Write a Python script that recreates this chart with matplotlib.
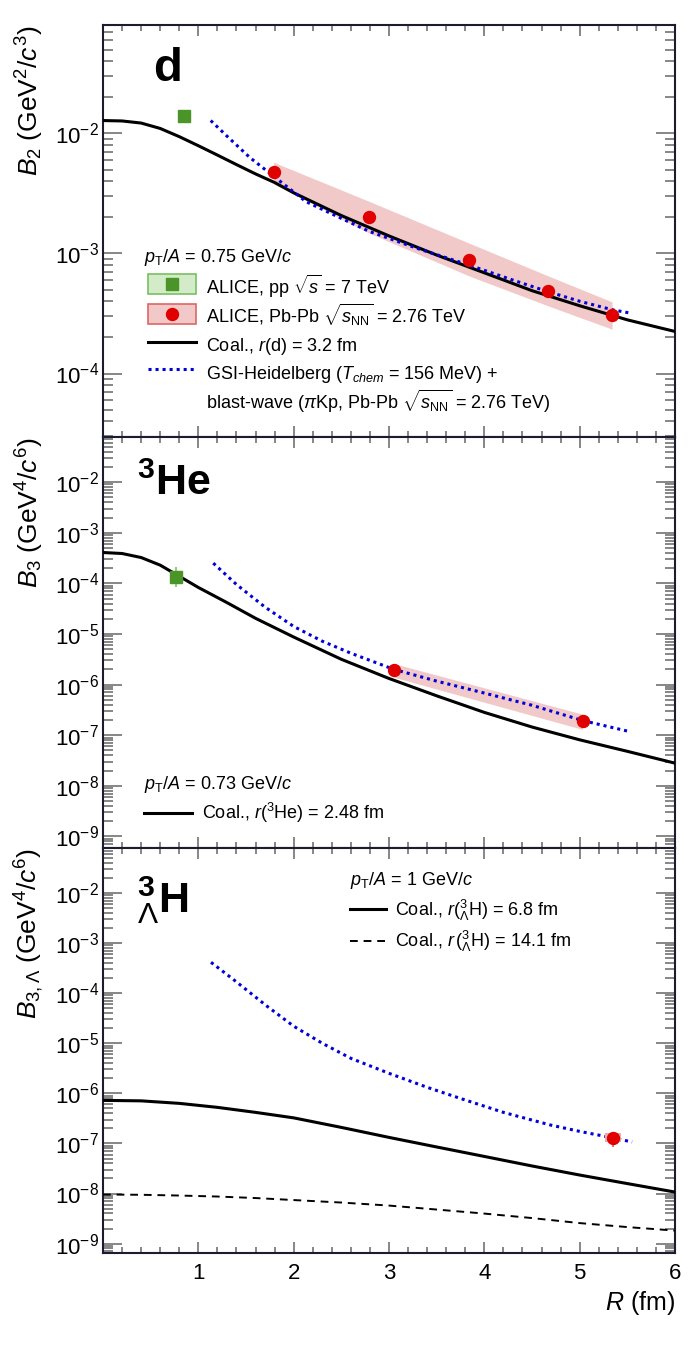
import numpy as np
import matplotlib
matplotlib.use('Agg')
import matplotlib.pyplot as plt
from matplotlib.lines import Line2D
from matplotlib.patches import Patch, Rectangle
from matplotlib.legend_handler import HandlerPatch
from matplotlib.ticker import LogLocator, NullFormatter, MultipleLocator, FixedLocator

plt.rcParams['font.family'] = ['Liberation Sans', 'DejaVu Sans']
plt.rcParams['mathtext.fontset'] = 'custom'
plt.rcParams['mathtext.rm'] = 'Liberation Sans'
plt.rcParams['mathtext.it'] = 'Liberation Sans:italic'
plt.rcParams['mathtext.bf'] = 'Liberation Sans:bold'
plt.rcParams['mathtext.sf'] = 'Liberation Sans'

# ---- deuteron, B2 ----
r_coal_d = [0, 0.2, 0.4, 0.6, 0.8, 1.0, 1.2, 1.4, 1.6, 1.8, 2.0, 2.5, 3.0, 3.5, 4.0, 4.5,
            5.0, 5.5, 6.0]
b2_coal = [0.0128, 0.0127, 0.0122, 0.0110, 0.0094, 0.0079, 0.0066, 0.0055, 0.0046, 0.0039,
           0.0032, 0.00207, 0.0014, 9.7e-4, 6.9e-4, 4.9e-4, 3.67e-4, 2.8e-4, 2.24e-4]
r_gsi_d = [1.13, 1.3, 1.54, 1.79, 2.13, 2.5, 2.79, 3.3, 3.84, 4.3, 4.67, 5.0, 5.34, 5.52]
b2_gsi = [0.0128, 0.0095, 0.0063, 0.0044, 0.0027, 0.00196, 0.00153, 0.0011, 8.0e-4,
          6.0e-4, 4.8e-4, 4.0e-4, 3.4e-4, 3.2e-4]
r_pbpb_d = [1.79, 2.79, 3.84, 4.67, 5.34]
b2_pbpb = [0.0048, 0.0020, 8.75e-4, 4.87e-4, 3.08e-4]
b2_pbpb_sys_lo = [0.0038, 0.00148, 6.5e-4, 3.66e-4, 2.34e-4]
b2_pbpb_sys_hi = [0.00575, 0.00272, 0.00122, 6.5e-4, 3.95e-4]
r_pp_d = [0.85]
b2_pp = [0.0139]

# ---- 3He, B3 ----
r_coal_he = [0, 0.2, 0.4, 0.6, 0.8, 1.0, 1.3, 1.6, 2.0, 2.5, 3.0, 3.5, 4.0, 4.5, 5.0, 5.5, 6.0]
b3_coal = [4.07e-4, 3.89e-4, 3.24e-4, 2.29e-4, 1.38e-4, 8.3e-5, 4.17e-5, 2.04e-5, 8.7e-6,
           3.16e-6, 1.32e-6, 6.0e-7, 2.82e-7, 1.45e-7, 8.1e-8, 4.8e-8, 2.8e-8]
r_gsi_he = [1.157, 1.4, 1.7, 2.0, 2.3, 2.6, 3.05, 3.5, 4.0, 4.5, 5.03, 5.53]
b3_gsi = [2.51e-4, 9.5e-5, 3.39e-5, 1.41e-5, 7.2e-6, 4.17e-6, 2.0e-6, 1.17e-6, 6.8e-7,
          3.9e-7, 1.95e-7, 1.17e-7]
r_pbpb_he = [3.05, 5.03]
b3_pbpb = [1.95e-6, 1.9e-7]
b3_pbpb_sys_lo = [1.4e-6, 1.3e-7]
b3_pbpb_sys_hi = [2.6e-6, 2.6e-7]
r_pp_he = [0.77]
b3_pp = [1.36e-4]
b3_pp_err_lo = [8.5e-5]
b3_pp_err_hi = [2.1e-4]

# ---- hypertriton, B3,Lambda ----
r_coal_h3l = [0, 0.4, 0.8, 1.2, 1.6, 2.0, 2.5, 3.0, 3.5, 4.0, 4.5, 5.0, 5.5, 6.0]
b3l_coal_68 = [7.24e-7, 7.08e-7, 6.31e-7, 5.25e-7, 4.17e-7, 3.24e-7, 2.09e-7, 1.32e-7,
               8.5e-8, 5.5e-8, 3.55e-8, 2.34e-8, 1.58e-8, 1.07e-8]
b3l_coal_141 = [9.55e-9, 9.44e-9, 9.12e-9, 8.71e-9, 8.13e-9, 7.41e-9, 6.61e-9, 5.75e-9,
                4.79e-9, 3.98e-9, 3.24e-9, 2.57e-9, 2.14e-9, 1.82e-9]
r_gsi_h3l = [1.133, 1.37, 1.72, 2.0, 2.3, 2.6, 3.0, 3.4, 3.75, 4.2, 4.69, 5.0, 5.35, 5.55]
b3l_gsi = [4.13e-4, 1.86e-4, 5.5e-5, 2.19e-5, 1.0e-5, 5.0e-6, 2.51e-6, 1.32e-6, 7.9e-7,
           4.17e-7, 2.34e-7, 1.74e-7, 1.29e-7, 1.07e-7]
r_pbpb_h3l = [5.35]
b3l_pbpb = [1.31e-7]
b3l_err_lo = [8.6e-8]
b3l_err_hi = [1.73e-7]
r_h3l_sys = [5.27, 5.43]
b3l_sys_lo = [1.05e-7, 1.05e-7]
b3l_sys_hi = [1.62e-7, 1.62e-7]

RED = '#e00000'
PINK = '#f1c9c9'
PINK_EDGE = '#e06666'
GREEN = '#4a9428'
LGREEN = '#d3ebc9'
LGREEN_EDGE = '#78c060'
EGREEN = '#8fd07c'
BLUE = '#0000d8'
DOT = (0, (1, 1.3))

fig = plt.figure(figsize=(6.98, 13.7), dpi=100)
L, W = 103 / 698, 572 / 698
ax1 = fig.add_axes([L, 1 - 437 / 1370, W, 412 / 1370])
ax2 = fig.add_axes([L, 1 - 848 / 1370, W, 411 / 1370])
ax3 = fig.add_axes([L, 1 - 1253 / 1370, W, 405 / 1370])


def style(ax, ylim):
    ax.set_xlim(0, 6)
    ax.set_yscale('log')
    ax.set_ylim(*ylim)
    ax.xaxis.set_major_locator(FixedLocator([1, 2, 3, 4, 5, 6]))
    ax.xaxis.set_minor_locator(MultipleLocator(0.2))
    ax.yaxis.set_major_locator(LogLocator(base=10, numticks=30))
    ax.yaxis.set_minor_locator(LogLocator(base=10, subs=np.arange(2, 10), numticks=30))
    ax.yaxis.set_minor_formatter(NullFormatter())
    ax.tick_params(which='both', direction='in', top=True, right=True,
                   color='#666666', width=1.1, labelsize=16)
    ax.tick_params(axis='y', which='major', length=14, pad=3)
    ax.tick_params(axis='y', which='minor', length=7)
    ax.tick_params(axis='x', which='major', length=8, pad=7)
    ax.tick_params(axis='x', which='minor', length=4.5)
    for s in ax.spines.values():
        s.set_linewidth(1.5)
        s.set_color('#1c1c30')


def small_box(legend, orig_handle, xdescent, ydescent, width, height, fontsize):
    # box centred on the marker position used by the line handler
    yc = (height - ydescent) / 2
    return Rectangle((-xdescent, yc - 0.355 * height), width, 0.71 * height)


# panel 1: d
style(ax1, (2.96e-5, 0.080))
ax1.fill_between(r_pbpb_d, b2_pbpb_sys_lo, b2_pbpb_sys_hi, color=PINK, lw=0, zorder=1)
ax1.plot(r_coal_d, b2_coal, color='black', lw=2.2, zorder=3)
ax1.plot(r_gsi_d, b2_gsi, color=BLUE, lw=2.2, ls=DOT, zorder=4)
ax1.plot(r_pbpb_d, b2_pbpb, 'o', color=RED, ms=8.6, zorder=5)
ax1.plot(r_pp_d, b2_pp, 's', color=GREEN, ms=8.5, zorder=5)
ax1.tick_params(labelbottom=False)
ax1.set_ylabel(r'$B_{2}$ (GeV$^{2}$/$c^{3}$)', fontsize=19, loc='top')
ax1.yaxis.set_label_coords(-0.10, 1.0)
ax1.text(0.088, 0.864, 'd', transform=ax1.transAxes, fontsize=34, fontweight='bold')
ax1.text(0.072, 0.4345, r'$p_{\mathrm{T}}/A$ = 0.75 GeV/$c$', transform=ax1.transAxes,
         fontsize=13, va='center', ha='left')

h_pp = (Patch(facecolor=LGREEN, edgecolor=LGREEN_EDGE, lw=1.2),
        Line2D([], [], marker='s', color=GREEN, ms=8.5, ls='none'))
h_pb = (Patch(facecolor=PINK, edgecolor=PINK_EDGE, lw=1.2),
        Line2D([], [], marker='o', color=RED, ms=8.6, ls='none'))
h_coal = Line2D([], [], color='black', lw=2.2)
h_gsi = Line2D([], [], color=BLUE, lw=2.2, ls=DOT)
h_blank = Line2D([], [], ls='none')
leg1 = ax1.legend(
    [h_pp, h_pb, h_coal, h_gsi, h_blank],
    [r'ALICE, pp $\sqrt{s}$ = 7 TeV',
     r'ALICE, Pb-Pb $\sqrt{s_{\mathrm{NN}}}$ = 2.76 TeV',
     r'Coal., $r$(d) = 3.2 fm',
     r'GSI-Heidelberg ($T_{chem}$ = 156 MeV) +',
     r'blast-wave ($\pi$Kp, Pb-Pb $\sqrt{s_{\mathrm{NN}}}$ = 2.76 TeV)'],
    handler_map={Patch: HandlerPatch(patch_func=small_box)},
    fontsize=13, loc='upper left', bbox_to_anchor=(0.079, 0.398), frameon=False,
    borderpad=0, borderaxespad=0, handlelength=2.66, handleheight=2.0,
    handletextpad=0.55, labelspacing=0.0)

# panel 2: 3He
style(ax2, (5.9e-10, 0.078))
ax2.fill_between(r_pbpb_he, b3_pbpb_sys_lo, b3_pbpb_sys_hi, color=PINK, lw=0, zorder=1)
ax2.plot(r_coal_he, b3_coal, color='black', lw=2.2, zorder=3)
ax2.plot(r_gsi_he, b3_gsi, color=BLUE, lw=2.2, ls=DOT, zorder=4)
ax2.plot(r_pbpb_he, b3_pbpb, 'o', color=RED, ms=8.6, zorder=5)
ax2.errorbar(r_pp_he, b3_pp,
             yerr=[np.subtract(b3_pp, b3_pp_err_lo), np.subtract(b3_pp_err_hi, b3_pp)],
             fmt='s', color=GREEN, ecolor=EGREEN, elinewidth=1.5, ms=8.5, zorder=5)
ax2.tick_params(labelbottom=False)
ax2.set_ylabel(r'$B_{3}$ (GeV$^{4}$/$c^{6}$)', fontsize=19, loc='top')
ax2.yaxis.set_label_coords(-0.10, 1.0)
ax2.text(0.06, 0.86, r'$^{\mathbf{3}}\mathbf{He}$', transform=ax2.transAxes, fontsize=31)
ax2.legend([h_coal], [r'Coal., $r$($^{3}$He) = 2.48 fm'],
           title=r'$p_{\mathrm{T}}/A$ = 0.73 GeV/$c$', title_fontsize=13, fontsize=13,
           loc='upper left', bbox_to_anchor=(0.072, 0.18), frameon=False, alignment='left',
           borderpad=0, borderaxespad=0, handlelength=2.66, handletextpad=0.55,
           labelspacing=0.35)

# panel 3: hypertriton
style(ax3, (6.5e-10, 0.079))
ax3.plot(r_coal_h3l, b3l_coal_68, color='black', lw=2.2, zorder=3)
ax3.plot(r_coal_h3l, b3l_coal_141, color='black', lw=1.4, ls=(0, (4, 3)), zorder=3)
ax3.plot(r_gsi_h3l, b3l_gsi, color=BLUE, lw=2.2, ls=DOT, zorder=4)
ax3.fill_between(r_h3l_sys, b3l_sys_lo, b3l_sys_hi, color='#f0a8a8', lw=0, zorder=4)
ax3.errorbar(r_pbpb_h3l, b3l_pbpb,
             yerr=[np.subtract(b3l_pbpb, b3l_err_lo), np.subtract(b3l_err_hi, b3l_pbpb)],
             fmt='o', color=RED, ecolor='#e87070', elinewidth=1.5, ms=8.6, zorder=5)
ax3.set_ylabel(r'$B_{3,\Lambda}$ (GeV$^{4}$/$c^{6}$)', fontsize=19, loc='top')
ax3.yaxis.set_label_coords(-0.10, 1.0)
ax3.set_xlabel(r'$R$ (fm)', fontsize=18, loc='right')
ax3.text(0.06, 0.84, r'${}^{\mathbf{3}}_{\Lambda}\mathbf{H}$', transform=ax3.transAxes,
         fontsize=31)
h_dash = Line2D([], [], color='black', lw=1.4, ls=(0, (4, 3)))
ax3.legend([h_coal, h_dash],
           [r'Coal., $r(^{3}_{\Lambda}\mathrm{H})$ = 6.8 fm',
            r'Coal., $r\,(^{3}_{\Lambda}\mathrm{H})$ = 14.1 fm'],
           title=r'$p_{\mathrm{T}}/A$ = 1 GeV/$c$', title_fontsize=13, fontsize=13,
           loc='upper left', bbox_to_anchor=(0.432, 0.945), frameon=False, alignment='left',
           borderpad=0, borderaxespad=0, handlelength=2.0, handletextpad=0.5,
           labelspacing=0.35)

fig.savefig('out.png', dpi=100)
